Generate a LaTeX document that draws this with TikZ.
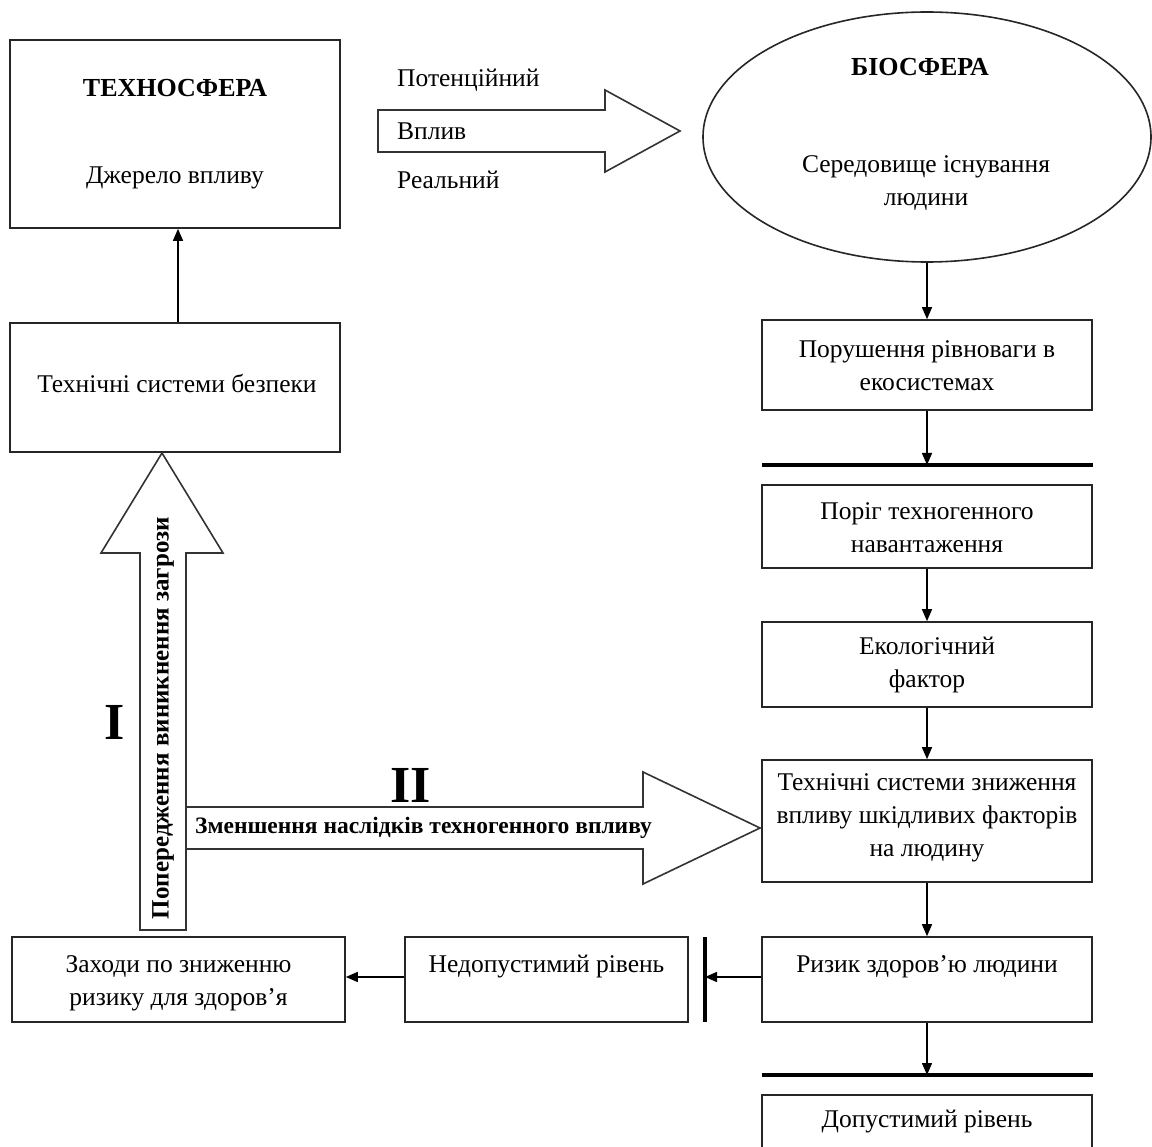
\documentclass[tikz,border=0pt]{standalone}
\usepackage{fontspec}
\setmainfont{Liberation Serif}
\usetikzlibrary{arrows.meta,shapes.geometric}
\begin{document}
\begin{tikzpicture}[x=1pt,y=-1pt,
  box/.style={draw=black!85,line width=1.6pt,inner sep=0pt,rectangle},
  txt/.style={font=\fontsize{25.5}{33}\selectfont,align=center,inner sep=0pt},
  htxt/.style={font=\bfseries\fontsize{26}{33}\selectfont,align=center,inner sep=0pt},
  btxt/.style={font=\bfseries\fontsize{23.5}{28}\selectfont,inner sep=0pt},
  conn/.style={draw=black,line width=1.4pt,-{Triangle[length=12pt,width=10pt]}},
  thick bar/.style={draw=black,line width=3.2pt},
  big arrow/.style={draw=black!80,line width=1.6pt,fill=white,line join=miter},
  roman/.style={font=\bfseries\fontsize{52}{52}\selectfont,inner sep=0pt}]
\useasboundingbox (0,0) rectangle (1152,1147);
% Technosphere
\node[box,minimum width=330pt,minimum height=188pt] (tech) at (175,134) {};
\node[htxt] (techT) at (175,88) {ТЕХНОСФЕРА};
\node[txt] (techS) at (175,178) {Джерело впливу};
% Technical safety systems
\node[box,minimum width=330pt,minimum height=129pt] (bez) at (175,387.5) {};
\node[txt] (bezT) at (177,383) {Технічні системи безпеки};
% Biosphere
\node[draw=black!85,line width=1.6pt,ellipse,minimum width=448pt,minimum height=250pt,inner sep=0pt] (bio) at (927,137) {};
\node[htxt] (bioT) at (920,67) {БІОСФЕРА};
\node[txt] (bioS) at (926,183) {Середовище існування\\людини};
% Right column
\node[box,minimum width=330pt,minimum height=90pt] (por) at (927,365) {};
\node[txt] (porT) at (927,366) {Порушення рівноваги в\\екосистемах};
\coordinate (l1a) at (762,465); \coordinate (l1b) at (1093,465); \coordinate (l1m) at (927,465);
\node[box,minimum width=330pt,minimum height=83pt] (porig) at (927,526.5) {};
\node[txt] (porigT) at (927,528) {Поріг техногенного\\навантаження};
\node[box,minimum width=330pt,minimum height=85pt] (eko) at (927,664.5) {};
\node[txt] (ekoT) at (927,665) {Екологічний\\фактор};
\node[box,minimum width=330pt,minimum height=122pt] (tsz) at (927,821) {};
\node[txt] (tszT) at (927,818) {Технічні системи зниження\\впливу шкідливих факторів\\на людину};
\node[box,minimum width=330pt,minimum height=85pt] (rz) at (927,979.5) {};
\node[txt] (rzT) at (927,967) {Ризик здоров’ю людини};
\coordinate (l2a) at (762,1075); \coordinate (l2b) at (1093,1075); \coordinate (l2m) at (927,1075);
\node[box,minimum width=330pt,minimum height=70pt] (dop) at (927,1130) {};
\node[txt] (dopT) at (927,1122) {Допустимий рівень};
% Bottom left
\node[box,minimum width=283pt,minimum height=85pt] (ned) at (546.5,979.5) {};
\node[txt] (nedT) at (546.5,967) {Недопустимий рівень};
\node[box,minimum width=333pt,minimum height=85pt] (zah) at (178.5,979.5) {};
\node[txt] (zahT) at (178.5,983) {Заходи по зниженню\\ризику для здоров’я};
\coordinate (bara) at (705,937); \coordinate (barb) at (705,1022); \coordinate (barm) at (705,977);
% Thick bars
\draw[thick bar] (l1a) -- (l1b);
\draw[thick bar] (l2a) -- (l2b);
\draw[thick bar] (bara) -- (barb);
% Connectors
\draw[conn] (bez.north -| 178,0) -- (tech.south -| 178,0);
\draw[conn] (bio.south) -- (por.north);
\draw[conn] (por.south) -- (l1m);
\draw[conn] (porig.south) -- (eko.north);
\draw[conn] (eko.south) -- (tsz.north);
\draw[conn] (tsz.south) -- (rz.north);
\draw[conn] (rz.south) -- (l2m);
\draw[conn] (rz.west |- barm) -- (barm);
\draw[conn] (ned.west |- barm) -- (zah.east |- barm);
% Big arrow top (influence)
\draw[big arrow] (378,110) -- (605,110) -- (605,90) -- (680,131) -- (605,172) -- (605,152) -- (378,152) -- cycle;
\node[txt,anchor=west] (pot) at (397,80) {Потенційний};
\node[txt,anchor=west] (vpl) at (397,131) {Вплив};
\node[txt,anchor=west] (real) at (397,180) {Реальний};
% Big vertical arrow I
\draw[big arrow] (140,930) -- (140,553) -- (101,553) -- (162,453) -- (223,553) -- (186,553) -- (186,930) -- cycle;
\node[btxt,font=\bfseries\fontsize{25}{28}\selectfont,rotate=90] (popT) at (163,718) {Попередження виникнення загрози};
\node[roman] (rI) at (115,722) {I};
% Big horizontal arrow II
\draw[big arrow] (186,807) -- (643,807) -- (643,772) -- (760,828) -- (643,884) -- (643,849) -- (186,849) -- cycle;
\node[btxt,anchor=west] (zmT) at (195,828) {Зменшення наслідків техногенного впливу};
\node[roman] (rII) at (411,785) {II};
\end{tikzpicture}
\end{document}
